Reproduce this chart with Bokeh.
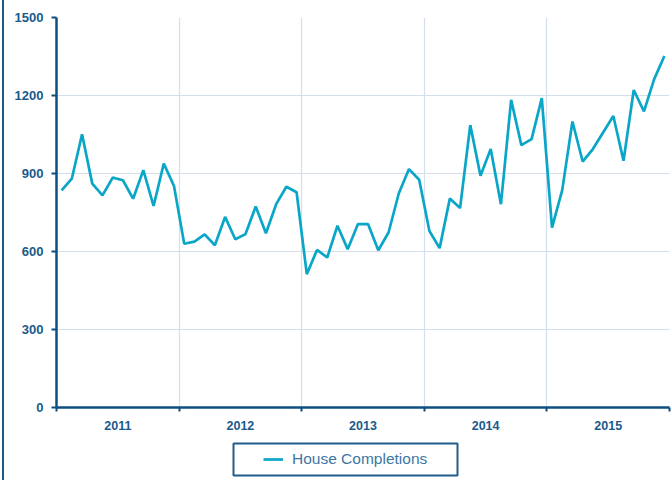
from bokeh.plotting import figure
from bokeh.models import FixedTicker, Range1d, Legend, LegendItem, Div, BoxAnnotation
from bokeh.layouts import column, row
from bokeh.embed import file_html
from bokeh.resources import INLINE

years = ["2011", "2012", "2013", "2014", "2015"]
months = list(range(60))
completions = [835, 880, 1051, 861, 816, 884, 874, 803, 913, 775, 938, 852,
               630, 638, 666, 624, 733, 647, 667, 773, 670, 782, 849, 828,
               513, 606, 577, 699, 609, 705, 705, 605, 673, 823, 917, 876,
               679, 613, 804, 767, 1086, 891, 994, 782, 1183, 1009, 1032, 1190,
               692, 836, 1100, 946, 994, 1058, 1121, 949, 1221, 1139, 1263, 1352]
y_ticks = [0, 300, 600, 900, 1200, 1500]
series_name = "House Completions"

AXIS = "#0e4f80"
TEXT = "#1b5a8b"
LINE = "#0aa6c8"
GRID = "#d5dfeb"

p = figure(width=668, height=440, output_backend="svg", toolbar_location=None,
           x_range=Range1d(-0.5, 59.5), y_range=Range1d(0, 1500),
           min_border_left=52, min_border_right=3, min_border_top=17, min_border_bottom=33)
p.outline_line_color = None

p.line(months, completions, line_color=LINE, line_width=2.7)

centers = [12 * i + 5.5 for i in range(len(years))]
bounds = [12 * i - 0.5 for i in range(len(years) + 1)]

xa = p.xaxis[0]
xa.ticker = FixedTicker(ticks=centers, minor_ticks=bounds)
xa.major_label_overrides = {c: y for c, y in zip(centers, years)}
xa.major_tick_out = 0
xa.major_tick_in = 0
xa.minor_tick_out = 4
xa.minor_tick_in = 0
xa.minor_tick_line_color = AXIS
xa.minor_tick_line_width = 2
xa.axis_line_color = AXIS
xa.axis_line_width = 2.5
xa.major_label_text_font = "Liberation Sans"
xa.major_label_text_font_style = "bold"
xa.major_label_text_font_size = "12.5px"
xa.major_label_text_color = TEXT
xa.major_label_standoff = 9

ya = p.yaxis[0]
ya.ticker = FixedTicker(ticks=y_ticks)
ya.minor_tick_out = 0
ya.minor_tick_in = 0
ya.major_tick_out = 5
ya.major_tick_in = 0
ya.major_tick_line_color = AXIS
ya.major_tick_line_width = 2
ya.axis_line_color = AXIS
ya.axis_line_width = 2.5
ya.major_label_text_font = "Liberation Sans"
ya.major_label_text_font_style = "bold"
ya.major_label_text_font_size = "13px"
ya.major_label_text_color = TEXT
ya.major_label_standoff = 8

p.xgrid.ticker = FixedTicker(ticks=bounds)
p.xgrid.grid_line_color = GRID
p.xgrid.grid_line_width = 1.2
p.ygrid.ticker = FixedTicker(ticks=y_ticks)
p.ygrid.grid_line_color = GRID
p.ygrid.grid_line_width = 1.2

# legend strip below the chart (the series is drawn out of view; only its legend entry shows)
p2 = figure(width=668, height=40, output_backend="svg", toolbar_location=None,
            x_range=Range1d(-0.5, 59.5), y_range=Range1d(-2, -1),
            min_border_left=0, min_border_right=0, min_border_top=0, min_border_bottom=0)
p2.outline_line_color = None
p2.axis.visible = False
p2.grid.visible = False
r2 = p2.line(months, completions, line_color=LINE, line_width=2.7)

legend_box = BoxAnnotation(left=229, right=453, top=3, bottom=35,
                           left_units="canvas", right_units="canvas",
                           top_units="canvas", bottom_units="canvas",
                           fill_alpha=0, line_color="#1f5d8c", line_alpha=1.0,
                           line_width=2)
p2.add_layout(legend_box)

legend = Legend(items=[LegendItem(label=series_name, renderers=[r2])],
                location=(200, 5), orientation="horizontal",
                label_text_font="Liberation Sans", label_text_font_size="15.5px",
                label_text_color="#3d77a3",
                border_line_alpha=0, background_fill_alpha=0,
                padding=7, margin=0, glyph_width=20, glyph_height=16,
                label_standoff=9, spacing=0)
p2.add_layout(legend, "center")

edge = Div(text="", width=2, height=480, margin=(0, 0, 0, 2),
           styles={"background-color": "#1d5b8b"})

layout = row(edge, column(p, p2, spacing=0), spacing=0)

open("out.html", "w").write(file_html(layout, INLINE))
